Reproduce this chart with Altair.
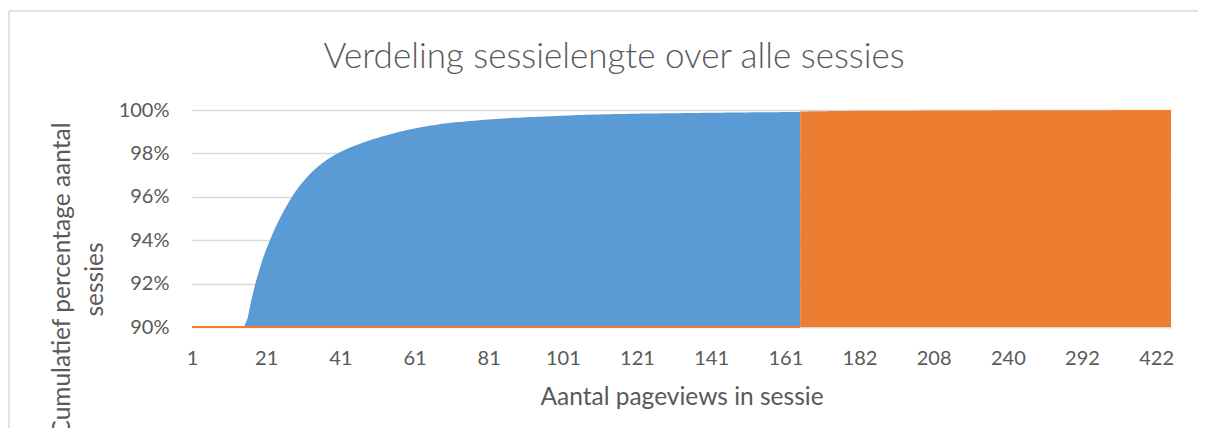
import json
import altair as alt
import pandas as pd

# ---------------- data ----------------
TITLE = "Verdeling sessielengte over alle sessies"
X_TITLE = "Aantal pageviews in sessie"
Y_TITLE = ["Cumulatief percentage aantal", "sessies"]

n_categories = 265                      # category slots on the x axis
x_tick_positions = [0, 20, 40, 60, 80, 100, 120, 140, 160, 180, 200, 220, 240, 260]
x_tick_labels = ["1", "21", "41", "61", "81", "101", "121", "141", "161",
                 "182", "208", "240", "292", "422"]
y_ticks = [0.90, 0.92, 0.94, 0.96, 0.98, 1.00]

# blue series: cumulative % per category, starting at category slot 14 (pageviews 15)
blue_start = 14
blue_pct = [
    89.5, 90.4, 91.25, 91.95, 92.55, 93.1,                                   # 14-19
    93.57, 94.0, 94.4, 94.77, 95.11, 95.43, 95.73, 96.01, 96.27, 96.5,       # 20-29
    96.71, 96.9, 97.08, 97.245, 97.395, 97.535, 97.66, 97.775, 97.88, 97.975,  # 30-39
    98.06, 98.145, 98.223, 98.295, 98.362, 98.425, 98.487, 98.547, 98.605, 98.661,  # 40-49
    98.715, 98.767, 98.817, 98.865, 98.911, 98.955, 98.997, 99.037, 99.075, 99.111,  # 50-59
    99.146, 99.18, 99.212, 99.242, 99.271, 99.299, 99.326, 99.352, 99.374, 99.394,   # 60-69
    99.413, 99.431, 99.448, 99.464, 99.479, 99.493, 99.507, 99.521, 99.535, 99.548,  # 70-79
    99.561, 99.574, 99.586, 99.598, 99.61, 99.621, 99.63, 99.639, 99.648, 99.656,    # 80-89
    99.664, 99.672, 99.679, 99.686, 99.693, 99.7, 99.708, 99.716, 99.723, 99.731,    # 90-99
    99.738, 99.745, 99.752, 99.759, 99.766, 99.772, 99.777, 99.782, 99.787, 99.792,  # 100-109
    99.796, 99.8, 99.804, 99.808, 99.812, 99.815, 99.818, 99.821, 99.824, 99.827,    # 110-119
    99.83, 99.833, 99.836, 99.838, 99.84, 99.842, 99.844, 99.846, 99.848, 99.85,     # 120-129
    99.852, 99.854, 99.856, 99.858, 99.86, 99.862, 99.864, 99.866, 99.868, 99.87,    # 130-139
    99.872, 99.874, 99.876, 99.878, 99.88, 99.882, 99.884, 99.886, 99.888, 99.889,   # 140-149
    99.89, 99.892, 99.893, 99.895, 99.896, 99.898, 99.899, 99.901, 99.902, 99.904,   # 150-159
    99.905, 99.906, 99.908, 99.909, 99.91,                                     # 160-164
]

# orange series: zero up to slot 164, then cumulative % from slot 164 to 264
orange_zero_start, orange_zero_end, orange_zero_value = 0, 164, 0.0
orange_start = 164
orange_pct = [
    99.93, 99.93, 99.93, 99.94, 99.94, 99.94, 99.94, 99.94, 99.95, 99.95,   # 164-173
    99.95, 99.95, 99.95, 99.95, 99.95, 99.96, 99.96, 99.96, 99.96, 99.96,   # 174-183
    99.96, 99.96, 99.96, 99.97, 99.97, 99.97, 99.97, 99.97, 99.97, 99.97,   # 184-193
    99.97, 99.97, 99.97, 99.98, 99.98, 99.98, 99.98, 99.98, 99.98, 99.98,   # 194-203
    99.98, 99.98, 99.98, 99.98, 99.98, 99.98, 99.98, 99.98, 99.98, 99.98,   # 204-213
    99.98, 99.98, 99.98, 99.99, 99.99, 99.99, 99.99, 99.99, 99.99, 99.99,   # 214-223
    99.99, 99.99, 99.99, 99.99, 99.99, 99.99, 99.99, 99.99, 99.99, 99.99,   # 224-233
    99.99, 99.99, 99.99, 99.99, 99.99, 99.99, 99.99, 99.99, 99.99, 99.99,   # 234-243
    99.99, 99.99, 99.99, 99.99, 99.99, 100.0, 100.0, 100.0, 100.0, 100.0,   # 244-253
    100.0, 100.0, 100.0, 100.0, 100.0, 100.0, 100.0, 100.0, 100.0, 100.0,   # 254-263
    100.0,                                                                  # 264
]

BLUE = "#5B9BD5"
ORANGE = "#ED7D31"
TEXT = "#595959"
GRID = "#D9D9D9"
FONT = "Lato"

# ---------------- tables ----------------
blue_df = pd.DataFrame({"idx": [blue_start + i for i in range(len(blue_pct))],
                        "pct": [v / 100 for v in blue_pct]})
orange_df = pd.DataFrame({"idx": [orange_start + i for i in range(len(orange_pct))],
                          "pct": [v / 100 for v in orange_pct]})
orange_zero_df = pd.DataFrame({"idx": [orange_zero_start], "idx_end": [orange_zero_end],
                               "pct": [orange_zero_value]})

W, H = 979, 217

label_expr = (f"{json.dumps(x_tick_labels)}"
              f"[indexof({json.dumps(x_tick_positions)}, datum.value)]")

x_enc = alt.X(
    "idx:Q",
    scale=alt.Scale(domain=[0, n_categories - 1], nice=False, zero=False),
    axis=alt.Axis(
        values=x_tick_positions, labelExpr=label_expr, title=X_TITLE,
        grid=False, ticks=False, tickSize=0, domain=True, domainColor=GRID,
        domainWidth=1.5, labelFont=FONT, labelFontSize=20, labelColor=TEXT,
        labelBaseline="alphabetic", labelPadding=37, labelOverlap=False,
        labelFlush=False, titleFont=FONT, titleFontSize=24.5,
        titleFontWeight="normal", titleColor=TEXT, titleBaseline="alphabetic",
        titleY=77,
    ),
)
y_enc = alt.Y(
    "pct:Q",
    scale=alt.Scale(domain=[0.9, 1.0], nice=False, zero=False, clamp=True),
    axis=alt.Axis(
        values=y_ticks, format=".0%", grid=True, gridColor=GRID, gridWidth=1.5,
        ticks=False, domain=False, labelFont=FONT, labelFontSize=20,
        labelColor=TEXT, labelPadding=23, labelBaseline="middle",
        title=Y_TITLE, titleFont=FONT, titleFontSize=24.5,
        titleFontWeight="normal", titleColor=TEXT, titleAngle=270,
        titleAlign="center", titleBaseline="middle", titleLineHeight=33,
        titleX=-130, titleY=169,
    ),
)

blue = alt.Chart(blue_df).mark_area(color=BLUE, opacity=1).encode(x=x_enc, y=y_enc)
orange = alt.Chart(orange_df).mark_area(color=ORANGE, opacity=1).encode(x=x_enc, y=y_enc)
orange_zero = alt.Chart(orange_zero_df).mark_rule(color=ORANGE, strokeWidth=2).encode(
    x=x_enc, x2="idx_end:Q", y=y_enc)

title = alt.Chart(pd.DataFrame({"t": [TITLE]})).mark_text(
    font=FONT, fontSize=35, fontWeight=300, color=TEXT, align="center",
    baseline="alphabetic",
).encode(text="t:N", x=alt.value(422), y=alt.value(-42))

frame_df = pd.DataFrame({"a": [0]})
frame_left = alt.Chart(frame_df).mark_rule(color=GRID, strokeWidth=1.5).encode(
    x=alt.value(-183), y=alt.value(-99), y2=alt.value(330))
frame_top = alt.Chart(frame_df).mark_rule(color=GRID, strokeWidth=1.5).encode(
    x=alt.value(-183), x2=alt.value(1014), y=alt.value(-99))

chart = alt.layer(frame_left, frame_top, blue, orange, orange_zero, title).properties(
    width=W, height=H,
    autosize=alt.AutoSizeParams(type="none"),
    padding={"left": 184, "top": 102, "right": 27, "bottom": 101},
    background="white",
).configure_view(stroke=None)

chart.save("out.html", embed_options={"renderer": "svg", "actions": False})
